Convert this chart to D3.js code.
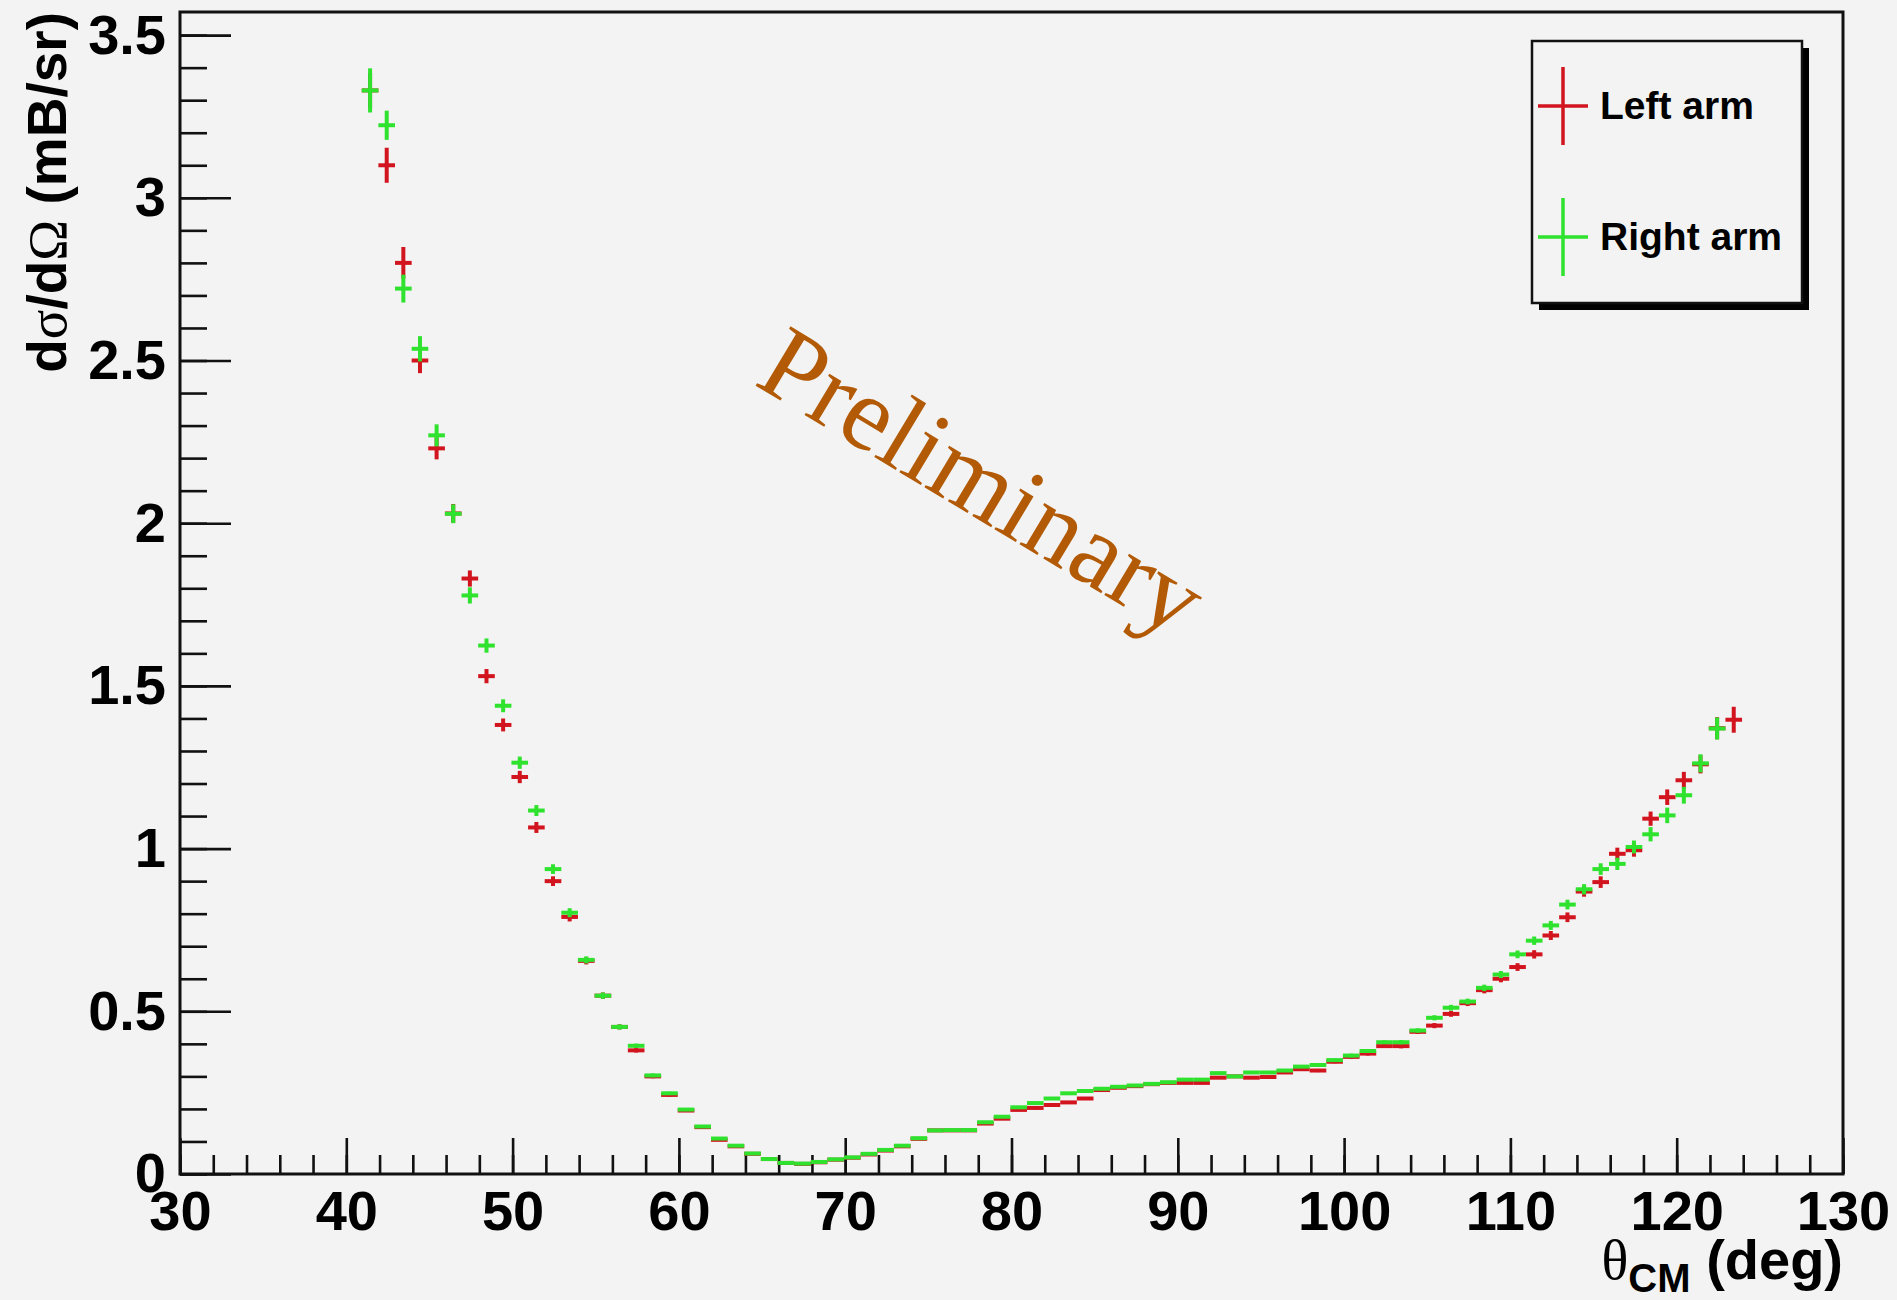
<!DOCTYPE html>
<html>
<head>
<meta charset="utf-8">
<script src="https://cdn.jsdelivr.net/npm/d3@7"></script>
<style>
  body { margin: 0; background: #f3f3f3; }
  svg { display: block; }
</style>
</head>
<body>
<svg></svg>
<script>
// bins are 1 deg wide, first bin starts at 41 deg
var leftBins = [41,42,43,44,45,46,47,48,49,50,51,52,53,54,55,56,57,58,59,60,61,62,63,64,65,66,67,68,69,70,71,72,73,74,75,76,77,78,79,80,81,82,83,84,85,86,87,88,89,90,91,92,93,94,95,96,97,98,99,100,101,102,103,104,105,106,107,108,109,110,111,112,113,114,115,116,117,118,119,120,121,122,123];
var leftArm = [3.33,3.10,2.80,2.50,2.23,2.03,1.83,1.53,1.38,1.22,1.065,0.90,0.79,0.655,0.548,0.452,0.38,0.30,0.243,0.195,0.144,0.105,0.085,0.062,0.046,0.034,0.031,0.036,0.044,0.050,0.060,0.072,0.085,0.108,0.134,0.134,0.134,0.155,0.170,0.197,0.203,0.212,0.220,0.232,0.258,0.265,0.270,0.276,0.280,0.280,0.280,0.296,0.300,0.296,0.298,0.312,0.322,0.318,0.345,0.360,0.370,0.393,0.393,0.437,0.456,0.492,0.525,0.565,0.600,0.636,0.675,0.733,0.789,0.868,0.897,0.984,0.995,1.092,1.158,1.210,1.259,1.370,1.396];
var leftErr = [0.06,0.06,0.055,0.045,0.04,0.035,0.031,0.028,0.026,0.025,0.023,0.021,0.02,0.017,0.016,0.014,0.013,0.012,0.011,0.01,0.009,0.008,0.008,0.008,0.007,0.007,0.007,0.007,0.007,0.007,0.008,0.008,0.008,0.009,0.009,0.009,0.009,0.01,0.01,0.01,0.01,0.01,0.01,0.01,0.01,0.01,0.01,0.01,0.01,0.01,0.01,0.01,0.01,0.01,0.01,0.01,0.01,0.011,0.011,0.012,0.012,0.012,0.013,0.013,0.014,0.015,0.015,0.016,0.017,0.018,0.019,0.02,0.021,0.022,0.024,0.025,0.026,0.028,0.03,0.032,0.034,0.04,0.046];

var rightBins = [41,42,43,44,45,46,47,48,49,50,51,52,53,54,55,56,57,58,59,60,61,62,63,64,65,66,67,68,69,70,71,72,73,74,75,76,77,78,79,80,81,82,83,84,85,86,87,88,89,90,91,92,93,94,95,96,97,98,99,100,101,102,103,104,105,106,107,108,109,110,111,112,113,114,115,116,117,118,119,120,121,122];
var rightArm = [3.33,3.223,2.721,2.536,2.270,2.029,1.778,1.624,1.439,1.264,1.117,0.937,0.803,0.658,0.548,0.452,0.394,0.303,0.248,0.198,0.146,0.109,0.087,0.063,0.046,0.034,0.032,0.037,0.045,0.051,0.062,0.074,0.087,0.110,0.134,0.135,0.135,0.159,0.176,0.205,0.218,0.232,0.248,0.255,0.262,0.268,0.272,0.277,0.282,0.290,0.290,0.310,0.300,0.312,0.312,0.318,0.330,0.335,0.350,0.364,0.378,0.405,0.405,0.441,0.480,0.511,0.530,0.572,0.613,0.675,0.717,0.764,0.828,0.875,0.937,0.953,1.005,1.044,1.102,1.164,1.262,1.369];
var rightErr = [0.074,0.051,0.049,0.045,0.04,0.035,0.031,0.028,0.026,0.025,0.023,0.021,0.02,0.017,0.016,0.014,0.013,0.012,0.011,0.01,0.009,0.008,0.008,0.008,0.007,0.007,0.007,0.007,0.007,0.007,0.008,0.008,0.008,0.009,0.009,0.009,0.009,0.01,0.01,0.01,0.01,0.01,0.01,0.01,0.01,0.01,0.01,0.01,0.01,0.01,0.01,0.01,0.01,0.01,0.01,0.01,0.01,0.011,0.011,0.012,0.012,0.012,0.013,0.013,0.014,0.015,0.015,0.016,0.017,0.018,0.019,0.02,0.021,0.022,0.024,0.025,0.026,0.028,0.03,0.032,0.034,0.04];

var xMajor = [30,40,50,60,70,80,90,100,110,120,130];
var yMajor = [0,0.5,1,1.5,2,2.5,3,3.5];
var yMajorLabels = ['0','0.5','1','1.5','2','2.5','3','3.5'];

var width = 1897, height = 1300;
var red = '#d2141e', green = '#2ee22e';
var sans = '"Liberation Sans", Arial, sans-serif';
var serif = '"Liberation Serif", "Times New Roman", serif';

var svg = d3.select('svg').attr('width', width).attr('height', height);
svg.append('rect').attr('width', width).attr('height', height).attr('fill', '#f3f3f3');

var x = d3.scaleLinear().domain([30, 130]).range([180, 1843]);
var y = d3.scaleLinear().domain([0, 3.571]).range([1174, 12]);

// minor ticks (no labels)
var xMinor = d3.range(30, 130.01, 2);
var yMinor = d3.range(0, 3.55, 0.1);

var gx = svg.append('g').attr('transform', 'translate(0,' + y(0) + ')');
gx.call(d3.axisBottom(x).tickValues(xMinor).tickSizeInner(-19).tickSizeOuter(0).tickFormat(''));
gx.append('g').call(d3.axisBottom(x).tickValues(xMajor).tickSizeInner(-36).tickSizeOuter(0).tickPadding(16).tickFormat(d3.format('d')));

var gy = svg.append('g').attr('transform', 'translate(' + x(30) + ',0)');
gy.call(d3.axisLeft(y).tickValues(yMinor).tickSizeInner(-27).tickSizeOuter(0).tickFormat(''));
gy.append('g').call(d3.axisLeft(y).tickValues(yMajor).tickSizeInner(-51).tickSizeOuter(0).tickPadding(14)
  .tickFormat(function(d, i){ return yMajorLabels[i] }));

svg.selectAll('.domain').remove();
svg.selectAll('.tick line').attr('stroke', '#111').attr('stroke-width', 2.6);
svg.selectAll('.tick text').attr('fill', '#000')
  .style('font-family', sans).style('font-size', '56px').style('font-weight', 'bold');

// frame
svg.append('rect')
  .attr('x', x(30)).attr('y', y(3.571))
  .attr('width', x(130) - x(30)).attr('height', y(0) - y(3.571))
  .attr('fill', 'none').attr('stroke', '#111').attr('stroke-width', 3);

// Preliminary watermark
svg.append('text')
  .attr('transform', 'translate(984,480) rotate(31)')
  .attr('text-anchor', 'middle').attr('dy', '0.35em')
  .style('font-family', serif).style('font-size', '105px')
  .attr('fill', '#b25a06')
  .text('Preliminary');

// data: crosses with bin-width horizontal bar and vertical error bar
function drawSeries(bins, vals, errs, color) {
  var pts = bins.map(function(b, i){ return { c: b + 0.43, v: vals[i], e: errs[i] } });
  var g = svg.append('g').attr('stroke', color).attr('stroke-width', 4);
  g.selectAll('line.h').data(pts).enter().append('line').attr('class', 'h')
    .attr('x1', function(d){ return x(d.c - 0.5) })
    .attr('x2', function(d){ return x(d.c + 0.5) })
    .attr('y1', function(d){ return y(d.v) })
    .attr('y2', function(d){ return y(d.v) });
  g.selectAll('line.v').data(pts).enter().append('line').attr('class', 'v')
    .attr('x1', function(d){ return x(d.c) })
    .attr('x2', function(d){ return x(d.c) })
    .attr('y1', function(d){ return y(d.v - d.e) - 2 })
    .attr('y2', function(d){ return y(d.v + d.e) + 2 });
}
drawSeries(leftBins, leftArm, leftErr, red);
drawSeries(rightBins, rightArm, rightErr, green);

// axis titles
var yt = svg.append('text')
  .attr('transform', 'translate(66,12) rotate(-90)')
  .attr('text-anchor', 'end').attr('fill', '#000')
  .style('font-family', sans).style('font-size', '55px').style('font-weight', 'bold');
yt.append('tspan').text('d');
yt.append('tspan').style('font-family', serif).style('font-weight', 'normal').text('σ');
yt.append('tspan').text('/d');
yt.append('tspan').style('font-family', serif).style('font-weight', 'normal').text('Ω');
yt.append('tspan').text(' (mB/sr)');

var xt = svg.append('text')
  .attr('x', 1843).attr('y', 1279)
  .attr('text-anchor', 'end').attr('fill', '#000')
  .style('font-family', sans).style('font-size', '56px').style('font-weight', 'bold');
xt.append('tspan').style('font-family', serif).style('font-weight', 'normal').text('θ');
xt.append('tspan').attr('dy', 13).style('font-size', '40px').text('CM');
xt.append('tspan').attr('dy', -13).text(' (deg)');

// legend
var legend = svg.append('g');
legend.append('rect').attr('x', 1539).attr('y', 48).attr('width', 270).attr('height', 262).attr('fill', '#000');
legend.append('rect').attr('x', 1532).attr('y', 41).attr('width', 270).attr('height', 262)
  .attr('fill', '#f3f3f3').attr('stroke', '#111').attr('stroke-width', 2.5);

var entries = [{ label: 'Left arm', color: red, cy: 106 }, { label: 'Right arm', color: green, cy: 237 }];
entries.forEach(function(e){
  legend.append('line').attr('x1', 1538).attr('x2', 1588).attr('y1', e.cy).attr('y2', e.cy)
    .attr('stroke', e.color).attr('stroke-width', 3.5);
  legend.append('line').attr('x1', 1563).attr('x2', 1563).attr('y1', e.cy - 39).attr('y2', e.cy + 39)
    .attr('stroke', e.color).attr('stroke-width', 3.5);
  legend.append('text').attr('x', 1600).attr('y', e.cy + 13)
    .attr('fill', '#000')
    .style('font-family', sans).style('font-size', '39px').style('font-weight', 'bold')
    .text(e.label);
});
</script>
</body>
</html>
